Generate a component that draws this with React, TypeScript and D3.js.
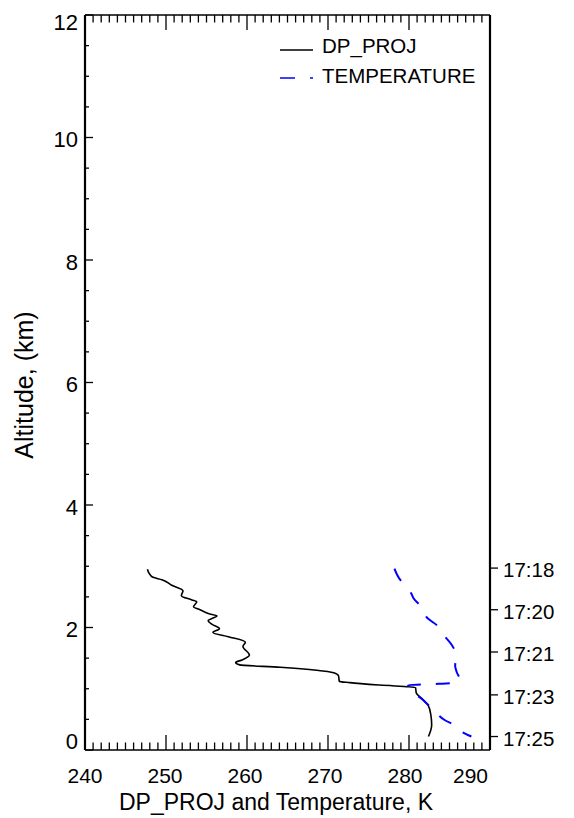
import * as d3 from "d3";

// dew point projection profile (K vs km)
const dpAlt = [2.95, 2.85, 2.82, 2.78, 2.69, 2.6, 2.52, 2.45, 2.42, 2.34, 2.29, 2.22, 2.19, 2.11, 2.05, 1.98, 1.92, 1.85, 1.76, 1.69, 1.55, 1.47, 1.43, 1.39, 1.35, 1.26, 1.21, 1.12, 1.1, 1.06, 1.02, 0.93, 0.84, 0.72, 0.57, 0.41, 0.22];
const dpK = [247.7, 248.1, 248.4, 249.5, 250.7, 252.1, 251.9, 253.2, 253.8, 253.4, 254.2, 255.4, 256.3, 255.2, 255.7, 256.6, 255.8, 257.7, 259.8, 259.5, 260.3, 259.4, 258.6, 259.1, 264.1, 270.7, 271.3, 271.4, 272.7, 276.4, 280.8, 280.9, 281.6, 282.4, 282.7, 282.8, 282.4];

// temperature profile
const tAlt = [2.96, 2.87, 2.78, 2.65, 2.55, 2.47, 2.33, 2.15, 2.03, 1.89, 1.73, 1.55, 1.37, 1.27, 1.17, 1.1, 1.08, 1.07, 1.06, 0.95, 0.87, 0.76, 0.63, 0.49, 0.39, 0.3, 0.22];
const tK = [278.2, 278.5, 278.9, 279.9, 280.3, 280.6, 281.6, 282.3, 283.5, 284.2, 285.2, 285.8, 285.7, 285.9, 286.2, 286.1, 283.6, 281.7, 279.9, 280.1, 281.2, 282.2, 283.2, 284.4, 285.9, 286.5, 287.7];

// right axis: time of day at altitude
const timeLabels = ["17:18", "17:20", "17:21", "17:23", "17:25"];
const timeAlt = [2.97, 2.29, 1.6, 0.9, 0.22];

const W = 574;
const H = 818;
const FONT = "Liberation Sans";

export default function App() {
  const x = d3.scaleLinear().domain([240, 290]).range([85, 490]);
  const y = d3.scaleLinear().domain([0, 12]).range([750, 15]);

  // altitude always decreases along the profiles, so monotoneY keeps the wiggles soft
  const line = d3
    .line<[number, number]>()
    .x(d => x(d[0]))
    .y(d => y(d[1]))
    .curve(d3.curveMonotoneY);

  const dpPts = dpK.map((k, i) => [k, dpAlt[i]] as [number, number]);
  const tPts = tK.map((k, i) => [k, tAlt[i]] as [number, number]);

  const xMajor = x.ticks(5);
  const xMinor = d3.range(240, 291, 1).filter(v => v % 10 !== 0);
  const yMajor = d3.range(0, 13, 2);
  const yMinor = d3.range(0, 12.01, 0.5).filter(v => v % 2 !== 0);

  const [x0, x1] = x.range();
  const [y0, y1] = y.range();
  const cap = 15;
  // end labels stay inside the frame, like the original
  const labelMid = (v: number) => Math.max(y1 + 7, Math.min(y0 - 9, y(v) + 1.5));

  return (
    <svg width={W} height={H} style={{ position: "absolute", left: 0, top: 0, background: "#fff" }} fontFamily={FONT}>
      {/* frame */}
      <line x1={x0} x2={x1} y1={y0} y2={y0} stroke="#000" strokeWidth={1.3} />
      <line x1={x0} x2={x1} y1={y1} y2={y1} stroke="#000" strokeWidth={1.3} />
      <line x1={x0} x2={x0} y1={y1} y2={y0} stroke="#000" strokeWidth={2.2} />
      <line x1={x1} x2={x1} y1={y1} y2={y0} stroke="#000" strokeWidth={2.2} />

      {/* x ticks bottom + top */}
      {xMajor.map((v, i) => {
        const last = i === xMajor.length - 1;
        return (
          <g key={"xm" + v}>
            <line x1={x(v)} x2={x(v)} y1={y0} y2={y0 - 15} stroke="#000" strokeWidth={1.3} />
            <line x1={x(v)} x2={x(v)} y1={y1} y2={y1 + 15} stroke="#000" strokeWidth={1.3} />
            <text x={last ? x(v) - 2 : x(v) - i} y={782.5} textAnchor={last ? "end" : "middle"} fontSize={21}>{v}</text>
          </g>
        );
      })}
      {xMinor.map(v => (
        <g key={"xn" + v}>
          <line x1={x(v)} x2={x(v)} y1={y0} y2={y0 - 7.5} stroke="#000" strokeWidth={1.3} />
          <line x1={x(v)} x2={x(v)} y1={y1} y2={y1 + 7.5} stroke="#000" strokeWidth={1.3} />
        </g>
      ))}

      {/* y ticks left */}
      {yMajor.map(v => (
        <g key={"ym" + v}>
          <line x1={x0} x2={x0 + 8} y1={y(v)} y2={y(v)} stroke="#000" strokeWidth={1.3} />
          <text x={78} y={labelMid(v) + 8} textAnchor="end" fontSize={22}>{v}</text>
        </g>
      ))}
      {yMinor.map(v => (
        <line key={"yn" + v} x1={x0} x2={x0 + 4} y1={y(v)} y2={y(v)} stroke="#000" strokeWidth={1.3} />
      ))}

      {/* right time axis */}
      {timeAlt.map((a, i) => (
        <g key={"t" + i}>
          <line x1={x1} x2={x1 + 8} y1={y(a)} y2={y(a)} stroke="#000" strokeWidth={1.3} />
          <text x={503} y={y(a) + 1.5 + cap / 2} fontSize={20.5}>{timeLabels[i]}</text>
        </g>
      ))}

      {/* axis titles */}
      <text x={276} y={810} textAnchor="middle" fontSize={23}>DP_PROJ and Temperature, K</text>
      <text transform="translate(33,385) rotate(-90)" textAnchor="middle" fontSize={25}>Altitude, (km)</text>

      {/* data */}
      <path d={line(dpPts) ?? ""} fill="none" stroke="#000" strokeWidth={1.6} />
      <path d={line(tPts) ?? ""} fill="none" stroke="#0000ff" strokeWidth={2} strokeDasharray="14,15" />

      {/* legend */}
      <line x1={280} x2={313} y1={50} y2={50} stroke="#000" strokeWidth={1.6} />
      <text x={322} y={53} fontSize={20.5}>DP_PROJ</text>
      <line x1={280} x2={313} y1={78} y2={78} stroke="#0000ff" strokeWidth={1.6} strokeDasharray="15,15" />
      <text x={322} y={83} fontSize={20.5}>TEMPERATURE</text>
    </svg>
  );
}
